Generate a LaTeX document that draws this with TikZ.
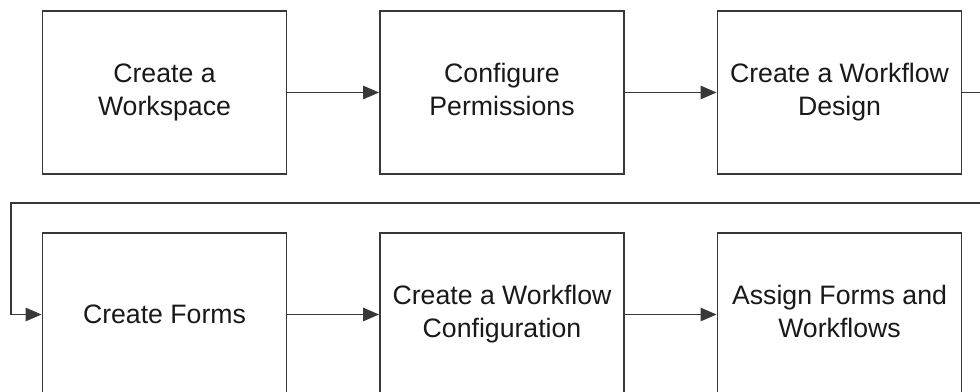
\documentclass[tikz,border=0pt]{standalone}
\usepackage{fontspec}
\setmainfont{Liberation Sans}
\usetikzlibrary{arrows.meta}
\begin{document}
\begin{tikzpicture}[x=0.75pt,y=-0.75pt,
  stepbox/.style={draw=black!78,line width=1.4pt,fill=white,minimum width=244*0.75pt,minimum height=163*0.75pt,
    inner sep=0pt,align=center,text=black!90,font=\fontsize{20}{24.6}\selectfont},
  conn/.style={draw=black!78,line width=1.4pt,-{Triangle[length=12pt,width=10pt]}}]
\useasboundingbox (0,0) rectangle (980,392);
\clip (0,0) rectangle (980,392);
\node[stepbox] (b1) at (164.5,92.5) {Create a\strut\\Workspace\strut};
\node[stepbox] (b2) at (502,92.5) {Configure\strut\\Permissions\strut};
\node[stepbox] (b3) at (839.5,92.5) {Create a Workflow\strut\\Design\strut};
\node[stepbox] (b4) at (164.5,314.5) {Create Forms};
\node[stepbox] (b5) at (502,314.5) {Create a Workflow\strut\\Configuration\strut};
\node[stepbox] (b6) at (839.5,314.5) {Assign Forms and\strut\\Workflows\strut};
\coordinate (r1) at (1000,92.5);
\coordinate (r2) at (1000,203);
\coordinate (l1) at (11,203);
\draw[conn] (b1) -- (b2);
\draw[conn] (b2) -- (b3);
\draw[conn] (b3.east) -- (r1) -- (r2) -- (l1) |- (b4.west);
\draw[conn] (b4) -- (b5);
\draw[conn] (b5) -- (b6);
\end{tikzpicture}
\end{document}
